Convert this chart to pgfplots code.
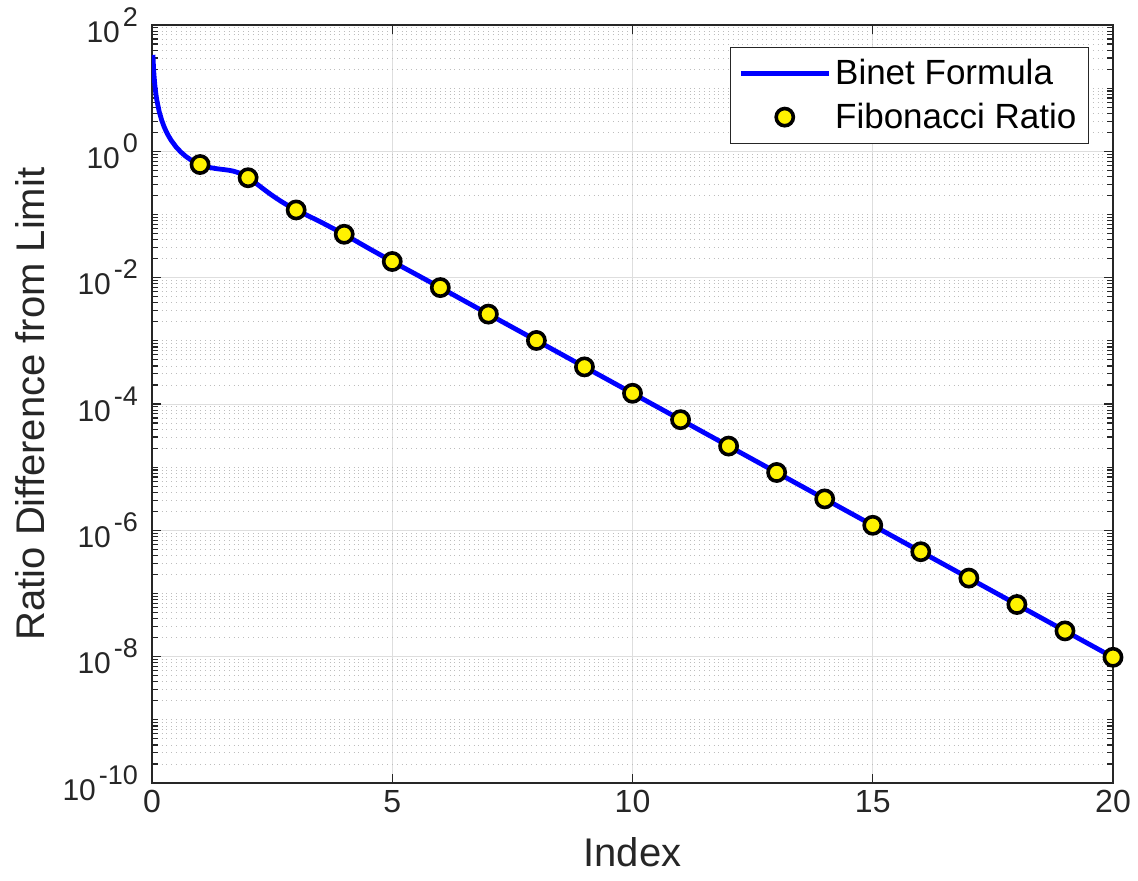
\documentclass[border=0pt]{standalone}
\usepackage{fontspec}
\setmainfont{Liberation Sans}
\usepackage{pgfplots}
\pgfplotsset{compat=1.18}
\definecolor{axgray}{gray}{0.15}
\definecolor{majgrid}{gray}{0.87}
\definecolor{mingrid}{gray}{0.74}
\newcommand{\ytl}[1]{{\fontsize{15}{17}\selectfont 10\kern1.5pt\raisebox{8pt}{\fontsize{13.5}{14}\selectfont #1}}}
\pgfplotsset{
  linelegend/.style={legend image code/.code={\draw[##1] (0pt,0pt) -- (44pt,0pt);}},
  marklegend/.style={legend image code/.code={\draw[##1,mark repeat=2,mark phase=2] plot coordinates {(0pt,0pt)(22pt,0pt)(44pt,0pt)};}},
}
\begin{document}
\begin{tikzpicture}
\begin{axis}[
  scale only axis,
  width=480.5pt, height=379pt,
  xmin=0, xmax=20,
  ymode=log, ymin=1e-10, ymax=1e2,
  xtick={0,5,10,15,20},
  ytick={1e-10,1e-8,1e-6,1e-4,1e-2,1e0,1e2},
  yticklabels={\ytl{-10},\ytl{-8},\ytl{-6},\ytl{-4},\ytl{-2},\ytl{0},\ytl{2}},
  minor ytick={
   2e-10,3e-10,4e-10,5e-10,6e-10,7e-10,8e-10,9e-10,1e-9,
   2e-9,3e-9,4e-9,5e-9,6e-9,7e-9,8e-9,9e-9,
   2e-8,3e-8,4e-8,5e-8,6e-8,7e-8,8e-8,9e-8,1e-7,
   2e-7,3e-7,4e-7,5e-7,6e-7,7e-7,8e-7,9e-7,
   2e-6,3e-6,4e-6,5e-6,6e-6,7e-6,8e-6,9e-6,1e-5,
   2e-5,3e-5,4e-5,5e-5,6e-5,7e-5,8e-5,9e-5,
   2e-4,3e-4,4e-4,5e-4,6e-4,7e-4,8e-4,9e-4,1e-3,
   2e-3,3e-3,4e-3,5e-3,6e-3,7e-3,8e-3,9e-3,
   2e-2,3e-2,4e-2,5e-2,6e-2,7e-2,8e-2,9e-2,1e-1,
   2e-1,3e-1,4e-1,5e-1,6e-1,7e-1,8e-1,9e-1,
   2,3,4,5,6,7,8,9,10,
   20,30,40,50,60,70,80,90},
  /pgf/number format/assume math mode=true,
  tick label style={font=\fontsize{16}{19}\selectfont, text=axgray},
  yticklabel style={xshift=-3.5pt},
  label style={font=\fontsize{20}{24}\selectfont, text=axgray},
  xlabel={Index},
  ylabel={Ratio Difference from Limit},
  xlabel style={at={(axis description cs:0.5,-0.091)},anchor=center},
  ylabel style={at={(axis description cs:-0.127,0.5)},anchor=center},
  axis line style={axgray, line width=0.6pt},
  tick style={axgray, line width=0.6pt},
  major tick length=4.5pt,
  minor tick length=3pt,
  tick align=inside,
  xtick pos=both, ytick pos=both,
  xminorgrids=false,
  ymajorgrids=true, xmajorgrids=true, yminorgrids=true,
  major grid style={majgrid, line width=0.5pt},
  minor grid style={mingrid, dotted, line width=0.4pt},
  legend cell align=left,
  legend style={at={(axis description cs:0.975,0.971)}, anchor=north east,
    draw=axgray, line width=0.6pt, fill=white,
    font=\fontsize{17.5}{21}\selectfont,
    inner xsep=4pt, inner ysep=4pt,
    row sep=3.5pt},
]
\addplot[blue, line width=2.4pt, line join=round, linelegend]
  coordinates {
  (0.02,33.71) (0.03,22.37) (0.04,16.70) (0.06,11.034) (0.08,8.205) (0.1,6.510)
  (0.15,4.2566) (0.2,3.137) (0.25,2.4706) (0.3,2.0307) (0.35,1.7202) (0.4,1.4902)
  (0.5,1.17557) (0.6,0.97360) (0.7,0.83606) (0.8,0.73888) (0.9,0.66885) (1.0,0.618034)
  (1.1,0.58139) (1.2,0.55541) (1.3,0.53731) (1.4,0.52444) (1.5,0.51374) (1.6,0.50163)
  (1.7,0.48424) (1.8,0.45818) (1.9,0.42325) (2.0,0.381966) (2.1,0.33866) (2.2,0.29723)
  (2.3,0.26005) (2.4,0.22795) (2.5,0.20081) (2.6,0.17809) (2.7,0.15909) (2.8,0.14313)
  (2.9,0.12961) (3.0,0.118034) (3.5,0.076968) (4,0.048633) (4.5,0.029414) (5,0.018034)
  (5.5,0.011236) (6,0.0069660) (6.5,0.0042919) (7,0.0026494) (7.5,0.0016393)
  (8,0.0010136) (8.5,6.2617e-4) (9,3.8693e-4) (9.5,2.3918e-4) (10,1.4783e-4)
  (10.5,9.1358e-5) (11,5.6460e-5) (11.5,3.4895e-5) (12,2.1567e-5) (12.5,1.3329e-5)
  (13,8.2377e-6) (13.5,5.0912e-6) (14,3.1465e-6) (14.5,1.9447e-6) (15,1.2019e-6)
  (15.5,7.4280e-7) (16,4.5907e-7) (16.5,2.8372e-7) (17,1.7535e-7) (17.5,1.0837e-7)
  (18,6.6978e-8) (18.5,4.1394e-8) (19,2.5583e-8) (19.5,1.5811e-8) (20,9.7719e-9)
  };
\addlegendentry{Binet Formula}
\addplot[only marks, mark=*, mark size=4.3pt,
  mark options={fill=yellow, draw=black, line width=1.8pt}, marklegend]
  coordinates {
  (1,0.618034) (2,0.381966) (3,0.118034) (4,0.048633) (5,0.018034)
  (6,0.0069660) (7,0.0026494) (8,0.0010136) (9,3.8693e-4) (10,1.4783e-4)
  (11,5.6460e-5) (12,2.1567e-5) (13,8.2377e-6) (14,3.1465e-6) (15,1.2019e-6)
  (16,4.5907e-7) (17,1.7535e-7) (18,6.6978e-8) (19,2.5583e-8) (20,9.7719e-9)
  };
\addlegendentry{Fibonacci Ratio}
\end{axis}
\pgfresetboundingbox
\path (-76pt,-49pt) rectangle (493pt,391.5pt);
\end{tikzpicture}
\end{document}
